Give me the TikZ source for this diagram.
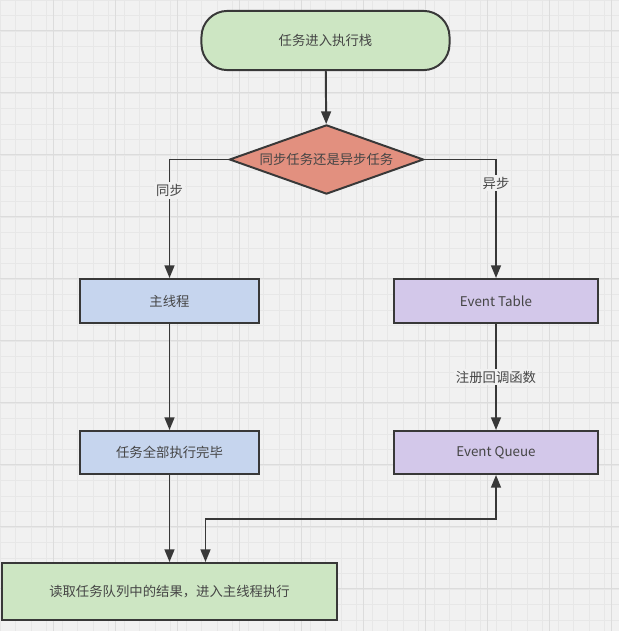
\documentclass[tikz,border=0pt]{standalone}
\usepackage{fontspec}
\setmainfont{Noto Sans CJK SC}
\usetikzlibrary{shapes.geometric,arrows.meta}

\definecolor{bgcol}{HTML}{F1F1F1}
\definecolor{gridminor}{HTML}{E7E7E7}
\definecolor{gridmajor}{HTML}{DCDCDC}
\definecolor{linecol}{HTML}{383838}
\definecolor{textcol}{HTML}{454545}
\definecolor{greencol}{HTML}{CDE6C3}
\definecolor{redcol}{HTML}{E2907F}
\definecolor{bluecol}{HTML}{C6D5EE}
\definecolor{purplecol}{HTML}{D3C8EA}

\tikzset{
  box/.style={draw=linecol, line width=1.4pt, text=textcol, inner sep=2pt,
    font=\fontsize{9.5}{11}\selectfont},
  link/.style={draw=linecol, line width=1.4pt, -{Triangle[length=9pt,width=7pt]}},
  lbl/.style={fill=bgcol, text=textcol, inner sep=1.5pt, font=\fontsize{9.5}{11}\selectfont},
}

\begin{document}
\begin{tikzpicture}[x=0.025cm,y=-0.025cm]
      \useasboundingbox (0,0) rectangle (619,631);
      % grid background
      \fill[bgcol] (0,0) rectangle (619,631);
      \begin{scope}
        \clip (0,0) rectangle (619,631);
        \foreach \g in {0,15.5,...,640} {
          \draw[gridminor, line width=0.3pt] (0,\g) -- (619,\g);
          \draw[gridminor, line width=0.3pt] (\g,0) -- (\g,631);
        }
        \foreach \g in {-9,53,...,640} {
          \draw[gridmajor, line width=0.5pt] (\g,0) -- (\g,631);
        }
        \foreach \g in {30,92,...,640} {
          \draw[gridmajor, line width=0.5pt] (0,\g) -- (619,\g);
        }
      \end{scope}

      % nodes
      \node[box, fill=greencol, rounded corners=0.65cm, minimum width=6.2cm, minimum height=1.48cm]
        (start) at (325.5,40.5) {任务进入执行栈};
      \node[box, fill=redcol, shape=diamond, aspect=2.8, inner sep=0pt, minimum width=4.85cm, minimum height=1.73cm]
        (choice) at (326.5,159.5) {同步任务还是异步任务};
      \node[box, fill=bluecol, minimum width=4.475cm, minimum height=1.1cm]
        (mainthread) at (169.5,301) {主线程};
      \node[box, fill=purplecol, minimum width=5.1cm, minimum height=1.1cm]
        (etable) at (496,301) {Event Table};
      \node[box, fill=bluecol, minimum width=4.475cm, minimum height=1.075cm]
        (done) at (169.5,452.5) {任务全部执行完毕};
      \node[box, fill=purplecol, minimum width=5.1cm, minimum height=1.075cm]
        (equeue) at (496,452.5) {Event Queue};
      \node[box, fill=greencol, minimum width=8.35cm, minimum height=1.425cm]
        (readres) at (169.5,591.5) {读取任务队列中的结果，进入主线程执行};

      % connectors
      \draw[link] (start) -- (choice);
      \draw[link] (choice.west) -| node[lbl, pos=0.63] {同步} (mainthread.north);
      \draw[link] (choice.east) -| node[lbl, pos=0.6] {异步} (etable.north);
      \draw[link] (mainthread) -- (done);
      \draw[link] (etable) -- node[lbl] {注册回调函数} (equeue);
      \draw[link] (done.south) -- (done.south |- readres.north);
      \coordinate (turn) at (205.5,519);
      \draw[link, {Triangle[length=9pt,width=7pt]}-{Triangle[length=9pt,width=7pt]}]
        (turn |- readres.north) -- (turn) -| (equeue.south);
    \end{tikzpicture}
\end{document}
